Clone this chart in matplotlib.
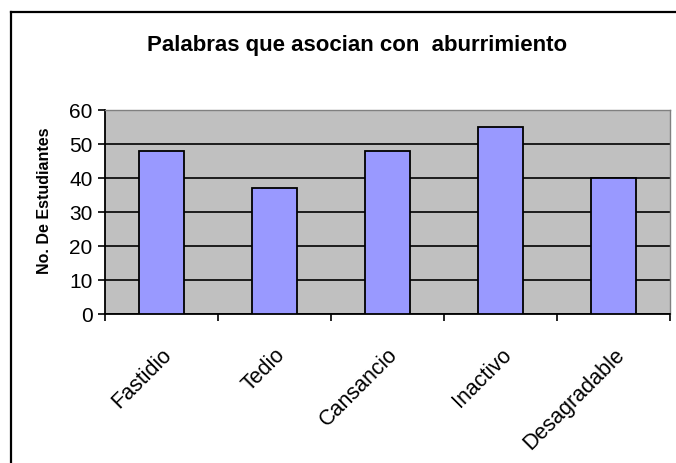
import matplotlib
matplotlib.use("Agg")
import matplotlib.pyplot as plt
import matplotlib.transforms as mtransforms
from matplotlib.lines import Line2D

# ── Data ──────────────────────────────────────────────────────────────
categories = ["Fastidio", "Tedio", "Cansancio", "Inactivo", "Desagradable"]
students = [48, 37, 48, 55, 40]
y_ticks = [0, 10, 20, 30, 40, 50, 60]

# ── Style ─────────────────────────────────────────────────────────────
FONT = ["Liberation Sans", "DejaVu Sans"]
BAR_COLOR = "#9999ff"
PLOT_BG = "#c0c0c0"
plt.rcParams["font.family"] = FONT

fig = plt.figure(figsize=(6.76, 4.64), dpi=100)
fig.patch.set_facecolor("white")

# outer chart frame (only left + top visible, rest runs off the picture)
fig.add_artist(Line2D([11 / 676, 11 / 676], [0, 1 - 13 / 464],
                      transform=fig.transFigure, color="black", lw=1.6))
fig.add_artist(Line2D([11 / 676, 1], [1 - 13 / 464, 1 - 13 / 464],
                      transform=fig.transFigure, color="black", lw=1.6))

ax = fig.add_axes([105 / 676, 1 - 315 / 464, (670 - 105) / 676, (315 - 111) / 464])
ax.set_facecolor(PLOT_BG)

x = list(range(len(categories)))
ax.bar(x, students, width=0.39, color=BAR_COLOR, edgecolor="black",
       linewidth=1.3, zorder=3)

ax.set_xlim(-0.5, len(categories) - 0.5)
ax.set_ylim(0, 60)
ax.set_yticks(y_ticks)
ax.grid(axis="y", color="black", linewidth=1.2, zorder=1)
ax.set_axisbelow(True)

ax.set_xticks(x)
ax.set_xticklabels(categories, rotation=45, ha="right", va="top",
                   rotation_mode="anchor", fontsize=15.5)
shift = mtransforms.ScaledTranslation(-4 / 100, 0, fig.dpi_scale_trans)
for lbl in ax.get_xticklabels():
    lbl.set_transform(lbl.get_transform() + shift)
ax.set_xticks([i - 0.5 for i in range(len(categories) + 1)], minor=True)
ax.tick_params(axis="x", which="major", length=0, pad=21)
ax.tick_params(axis="x", which="minor", length=5, width=1.2, direction="out")
ax.tick_params(axis="y", length=5, width=1.2, labelsize=15, pad=4)

for side in ("left", "bottom"):
    ax.spines[side].set_color("black")
    ax.spines[side].set_linewidth(1.3)
for side in ("top", "right"):
    ax.spines[side].set_color("#808080")
    ax.spines[side].set_linewidth(1.0)

ax.set_ylabel("No. De Estudiantes", fontsize=11.5, fontweight="bold",
              va="center")
ax.yaxis.set_label_coords((45 - 105) / 565, (315 - 201) / 204)

fig.text(357 / 676, 1 - 46 / 464, "Palabras que asocian con  aburrimiento",
         ha="center", va="center", fontsize=16, fontweight="bold")

fig.savefig("out.png", dpi=100, facecolor="white")
